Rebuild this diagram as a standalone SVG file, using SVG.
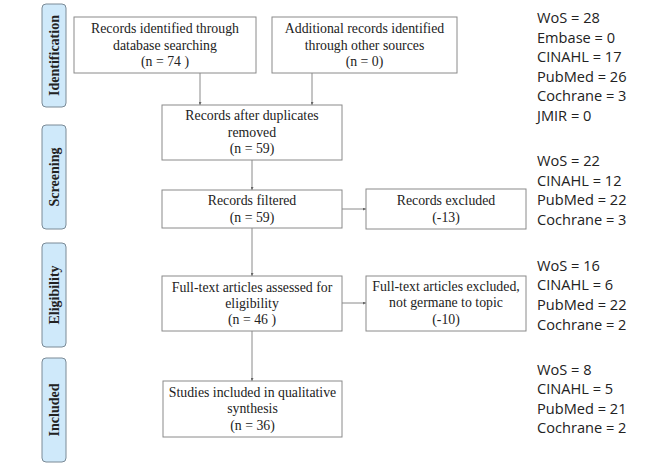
<svg xmlns="http://www.w3.org/2000/svg" width="672" height="465" viewBox="0 0 672 465">
<style>
.box{fill:#fff;stroke:#8a8a8a;stroke-width:1}
.phase{fill:#cfe9fa;stroke:#7a8a96;stroke-width:1}
.t{font-family:"Liberation Serif","Times New Roman",serif;font-size:13.8px;fill:#222;text-anchor:middle}
.pt{font-family:"Liberation Serif","Times New Roman",serif;font-size:14px;font-weight:bold;fill:#222;text-anchor:middle}
.c{font-family:"Open Sans","Liberation Sans",sans-serif;font-size:14.6px;fill:#222}
.ln{stroke:#8a8a8a;stroke-width:1;fill:none;marker-end:url(#ah)}
</style>
<defs>
<marker id="ah" viewBox="0 0 6 6" refX="6" refY="3" markerWidth="3" markerHeight="3" orient="auto">
<path d="M0,0 L6,3 L0,6 Z" fill="#666"/>
</marker>
</defs>
<rect width="672" height="465" fill="#fff"/>

<g id="phase-identification"><rect class="phase" x="42" y="4" width="24" height="103" rx="4"/><text class="pt" transform="translate(59,55.5) rotate(-90)">Identification</text></g>
<g id="phase-screening"><rect class="phase" x="42" y="125" width="24" height="104" rx="4"/><text class="pt" transform="translate(59,177) rotate(-90)">Screening</text></g>
<g id="phase-eligibility"><rect class="phase" x="42" y="243" width="24" height="104" rx="4"/><text class="pt" transform="translate(59,295) rotate(-90)">Eligibility</text></g>
<g id="phase-included"><rect class="phase" x="42" y="358" width="24" height="104" rx="4"/><text class="pt" transform="translate(59,410) rotate(-90)">Included</text></g>

<g id="connectors">
<path class="ln" d="M200,73 V105"/>
<path class="ln" d="M312,73 V105"/>
<path class="ln" d="M252,160 V190"/>
<path class="ln" d="M342,209 H366"/>
<path class="ln" d="M252,228 V276"/>
<path class="ln" d="M342,303 H366"/>
<path class="ln" d="M252,331 V381"/>
</g>

<g id="records-identified"><rect class="box" x="74" y="17" width="182" height="56"/>
<text class="t" x="165" y="33">Records identified through</text>
<text class="t" x="165" y="49.5">database searching</text>
<text class="t" x="165" y="66">(n = 74 )</text></g>

<g id="additional-records"><rect class="box" x="272" y="17" width="185" height="56"/>
<text class="t" x="364.5" y="33">Additional records identified</text>
<text class="t" x="364.5" y="49.5">through other sources</text>
<text class="t" x="364.5" y="66">(n = 0)</text></g>

<g id="after-duplicates"><rect class="box" x="162" y="105" width="180" height="55"/>
<text class="t" x="252" y="119.5">Records after duplicates</text>
<text class="t" x="252" y="136.5">removed</text>
<text class="t" x="252" y="153">(n = 59)</text></g>

<g id="records-filtered"><rect class="box" x="162" y="190" width="180" height="38"/>
<text class="t" x="252" y="205">Records filtered</text>
<text class="t" x="252" y="221.5">(n = 59)</text></g>

<g id="records-excluded"><rect class="box" x="366" y="189" width="160" height="40"/>
<text class="t" x="446" y="205">Records excluded</text>
<text class="t" x="446" y="221.5">(-13)</text></g>

<g id="fulltext-assessed"><rect class="box" x="162" y="276" width="180" height="55"/>
<text class="t" x="252" y="291.5">Full-text articles assessed for</text>
<text class="t" x="252" y="307.5">eligibility</text>
<text class="t" x="252" y="324">(n = 46 )</text></g>

<g id="fulltext-excluded"><rect class="box" x="366" y="276" width="160" height="55"/>
<text class="t" x="446" y="291">Full-text articles excluded,</text>
<text class="t" x="446" y="307">not germane to topic</text>
<text class="t" x="446" y="324">(-10)</text></g>

<g id="studies-included"><rect class="box" x="163" y="381" width="179" height="56"/>
<text class="t" x="252.5" y="397">Studies included in qualitative</text>
<text class="t" x="252.5" y="413">synthesis</text>
<text class="t" x="252.5" y="429.5">(n = 36)</text></g>

<g id="counts-identification">
<text class="c" x="537" y="23">WoS = 28</text>
<text class="c" x="537" y="42.5">Embase = 0</text>
<text class="c" x="537" y="62">CINAHL = 17</text>
<text class="c" x="537" y="81.5">PubMed = 26</text>
<text class="c" x="537" y="101">Cochrane = 3</text>
<text class="c" x="537" y="120.5">JMIR = 0</text>
</g>
<g id="counts-screening">
<text class="c" x="537" y="166">WoS = 22</text>
<text class="c" x="537" y="185.7">CINAHL = 12</text>
<text class="c" x="537" y="205.4">PubMed = 22</text>
<text class="c" x="537" y="225">Cochrane = 3</text>
</g>
<g id="counts-eligibility">
<text class="c" x="537" y="270.7">WoS = 16</text>
<text class="c" x="537" y="290.3">CINAHL = 6</text>
<text class="c" x="537" y="310">PubMed = 22</text>
<text class="c" x="537" y="329.5">Cochrane = 2</text>
</g>
<g id="counts-included">
<text class="c" x="537" y="375">WoS = 8</text>
<text class="c" x="537" y="394.4">CINAHL = 5</text>
<text class="c" x="537" y="413.8">PubMed = 21</text>
<text class="c" x="537" y="433.2">Cochrane = 2</text>
</g>
</svg>
